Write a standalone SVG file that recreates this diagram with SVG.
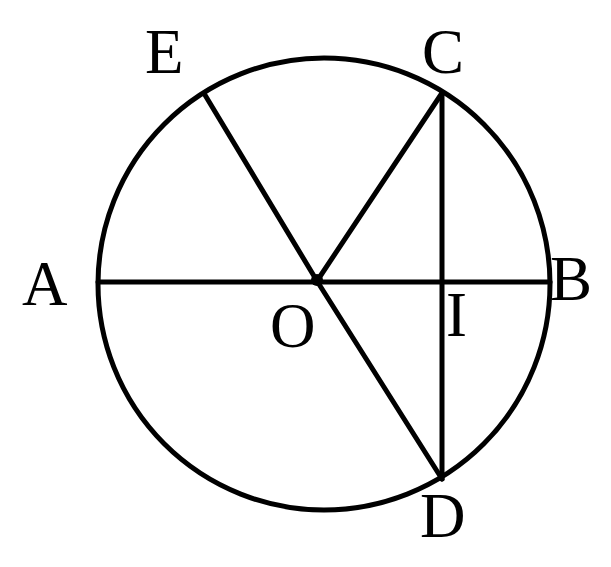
<svg xmlns="http://www.w3.org/2000/svg" width="611" height="567" viewBox="0 0 611 567">
<style>
.ln{stroke:#000;stroke-width:5;fill:none;stroke-linecap:round}
.lb{font-family:"Liberation Serif","Times New Roman",serif;font-size:63px;fill:#000}
</style>
<rect width="611" height="567" fill="#fff"/>
<g id="circle"><circle class="ln" cx="324" cy="284" r="226"/></g>
<g id="connectors">
<line class="ln" x1="98" y1="282" x2="550" y2="282"/>
<line class="ln" x1="205" y1="95" x2="317" y2="281"/>
<line class="ln" x1="317" y1="281" x2="442" y2="479"/>
<line class="ln" x1="317" y1="281" x2="442" y2="93"/>
<line class="ln" x1="442" y1="93" x2="442" y2="479"/>
</g>
<g id="O"><circle cx="317" cy="280" r="6" fill="#000"/><text class="lb" x="270" y="347">O</text></g>
<g id="A"><text class="lb" x="22" y="305">A</text></g>
<g id="B"><text class="lb" x="550" y="300">B</text></g>
<g id="C"><text class="lb" x="422" y="73">C</text></g>
<g id="D"><text class="lb" x="420" y="537">D</text></g>
<g id="E"><text class="lb" x="145" y="73">E</text></g>
<g id="I"><text class="lb" x="446" y="336">I</text></g>
</svg>
